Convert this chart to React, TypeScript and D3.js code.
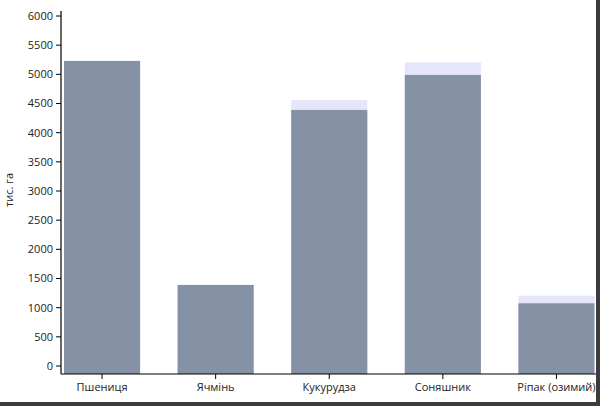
import React from "react";
import * as d3 from "d3";

const categories = ["Пшениця", "Ячмінь", "Кукурудза", "Соняшник", "Ріпак (озимий)"];
const harvested = [5230, 1390, 4390, 4990, 1075];
const sown = [5230, 1390, 4560, 5205, 1205];
const yTicks = [0, 500, 1000, 1500, 2000, 2500, 3000, 3500, 4000, 4500, 5000, 5500, 6000];

const W = 600;
const H = 406;
const FONT = "'Open Sans', 'DejaVu Sans', sans-serif";

export default function App() {
  const y = d3.scaleLinear().domain([0, 6000]).range([366, 16]);
  const x = d3.scaleBand<string>().domain(categories).range([64, 594.5]).paddingInner(0.33).paddingOuter(0);
  const axisX = 61;
  const axisY = 374;
  return (
    <svg width={W} height={H} style={{ position: "absolute", left: 0, top: 0, background: "#fff" }}>
      <rect x={0} y={0} width={W} height={H} fill="#fff" />
      {categories.map((c, i) => (
        <g key={c}>
          <rect x={x(c)} y={y(sown[i])} width={x.bandwidth()} height={y(0) - y(sown[i]) + 8} fill="#e6e6fa" />
          <rect x={x(c)} y={y(harvested[i])} width={x.bandwidth()} height={y(0) - y(harvested[i]) + 8} fill="#8591a5" />
        </g>
      ))}
      <line x1={axisX} x2={axisX} y1={11} y2={axisY} stroke="#000" strokeWidth={1.2} />
      <line x1={axisX} x2={597} y1={axisY} y2={axisY} stroke="#000" strokeWidth={1.2} />
      {yTicks.map((t) => (
        <g key={t}>
          <line x1={axisX - 5} x2={axisX} y1={y(t)} y2={y(t)} stroke="#000" />
          <text x={axisX - 8} y={y(t)} dy="0.35em" textAnchor="end" fontFamily={FONT} fontSize={11} fill="#222">
            {t}
          </text>
        </g>
      ))}
      {categories.map((c) => {
        const cx = (x(c) as number) + x.bandwidth() / 2;
        return (
          <g key={c}>
            <line x1={cx} x2={cx} y1={axisY} y2={axisY + 5} stroke="#000" />
            <text x={cx} y={391} textAnchor="middle" fontFamily={FONT} fontSize={11} fill="#222">
              {c}
            </text>
          </g>
        );
      })}
      <text transform={`translate(13,190) rotate(-90)`} textAnchor="middle" fontFamily={FONT} fontSize={11} fill="#222">
        тис. га
      </text>
      <rect x={0} y={402} width={W} height={4} fill="#3c3c3c" />
      <rect x={596} y={0} width={4} height={H} fill="#3c3c3c" />
    </svg>
  );
}
